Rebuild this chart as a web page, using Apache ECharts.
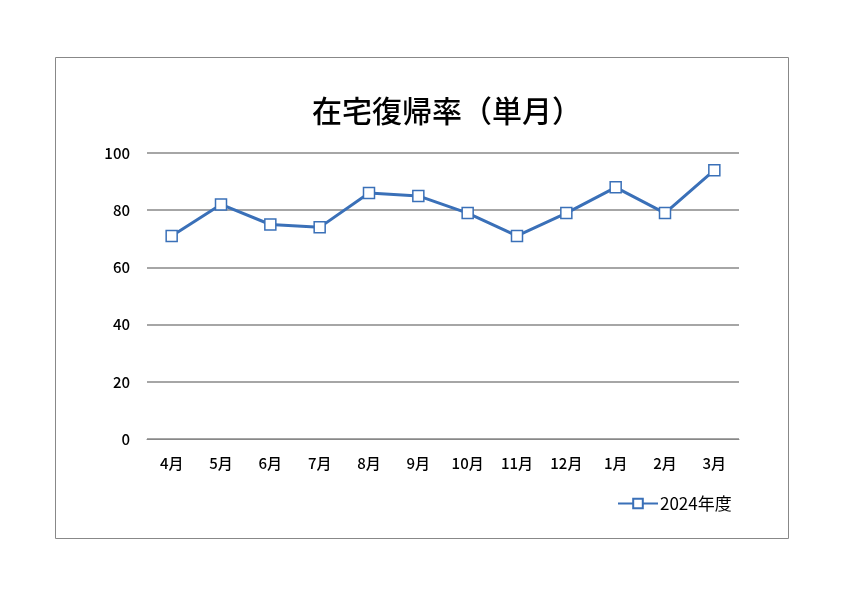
<!DOCTYPE html>
<html>
<head>
<meta charset="utf-8">
<script src="https://cdn.jsdelivr.net/npm/echarts@6/dist/echarts.min.js"></script>
<style>
html, body { margin: 0; padding: 0; background: #fff; }
#chart { width: 842px; height: 595px; }
</style>
</head>
<body>
<div id="chart"></div>
<script>
const months = ['4月', '5月', '6月', '7月', '8月', '9月', '10月', '11月', '12月', '1月', '2月', '3月'];
const rate2024 = [71, 82, 75, 74, 86, 85, 79, 71, 79, 88, 79, 94];
const yTicks = {min: 0, max: 100, interval: 20};

const chart = echarts.init(document.getElementById('chart'));
const font = '"Noto Sans CJK JP", "Noto Sans", sans-serif';

chart.setOption({
    animation: false,
    textStyle: {fontFamily: font},
    graphic: [{
        type: 'rect',
        shape: {x: 55.5, y: 57.5, width: 733, height: 481},
        style: {fill: 'none', stroke: '#888', lineWidth: 1}
    }],
    title: {
        text: '在宅復帰率（単月）',
        left: 442,
        top: 91,
        textAlign: 'center',
        textStyle: {fontSize: 30, fontWeight: 500, color: '#000', fontFamily: font}
    },
    legend: {
        data: ['2024年度'],
        left: 612,
        top: 490,
        itemWidth: 40,
        itemHeight: 12,
        itemGap: 3,
        textStyle: {fontSize: 17, color: '#000', fontFamily: font, padding: [0, 0, 0, -3]}
    },
    grid: {left: 147, right: 103, top: 153, bottom: 156},
    xAxis: {
        type: 'category',
        data: months,
        axisLine: {lineStyle: {color: '#888'}},
        axisTick: {show: false},
        axisLabel: {color: '#000', fontSize: 15, fontWeight: 500, margin: 17}
    },
    yAxis: {
        type: 'value',
        min: yTicks.min,
        max: yTicks.max,
        interval: yTicks.interval,
        axisLine: {show: false},
        axisTick: {show: false},
        axisLabel: {color: '#000', fontSize: 15, fontWeight: 500, margin: 17},
        splitLine: {lineStyle: {color: '#888', width: 1.5}}
    },
    series: [{
        name: '2024年度',
        type: 'line',
        data: rate2024,
        symbol: 'rect',
        symbolSize: 11,
        lineStyle: {color: '#3a70b8', width: 3},
        itemStyle: {color: '#fff', borderColor: '#3a70b8', borderWidth: 1.5}
    }]
});
</script>
</body>
</html>
